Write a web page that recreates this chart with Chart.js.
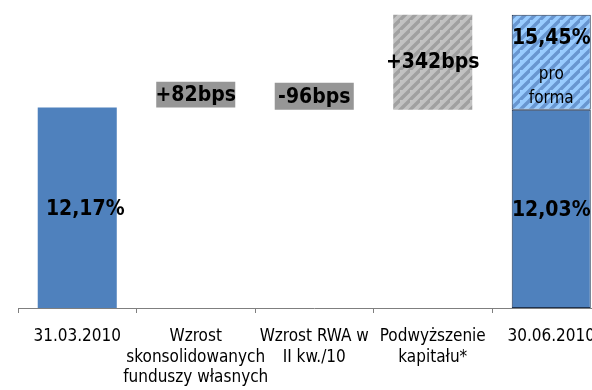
<!DOCTYPE html>
<html><head><meta charset="utf-8">
<script src="https://cdn.jsdelivr.net/npm/chart.js@4"></script>
<style>html,body{margin:0;padding:0;overflow:hidden;background:#fff;width:592px;height:390px}
#wrap{position:relative;width:620px;height:390px}</style></head>
<body><div id="wrap"><canvas id="c" width="620" height="390" style="width:620px;height:390px"></canvas></div>
<script>
const categories = ['31.03.2010', ['Wzrost','skonsolidowanych','funduszy własnych'], ['Wzrost RWA w','II kw./10'], ['Podwyższenie','kapitału*'], '30.06.2010'];
// values (percent, on the drawn scale)
const solidLow = [0, null, null, null, 0];
const solidHigh = [12.17, null, null, null, 12.03];
const changeLow = [null, 12.17, 12.03, null, null];
const changeHigh = [null, 13.73, 13.67, null, null];
const issueLow = [null, null, null, 12.03, null];
const issueHigh = [null, null, null, 17.8, null];
const proFormaLow = [null, null, null, null, 12.03];
const proFormaHigh = [null, null, null, null, 17.8];
const solidLabels = ['12,17%', null, null, null, '12,03%'];
const changeLabels = [null, '+82bps', '-96bps', '+342bps', null];
const proFormaLabels = ['15,45%', 'pro', 'forma'];

const FONT = "'DejaVu Sans Condensed', 'DejaVu Sans', sans-serif";
function ranges(lo, hi){ return lo.map((l,i)=> l==null ? null : [l, hi[i]]); }
function hatch(base, stripe){
  const n = 10;
  const c = document.createElement('canvas'); c.width = n; c.height = n;
  const g = c.getContext('2d');
  g.fillStyle = base; g.fillRect(0,0,n,n);
  g.strokeStyle = stripe; g.lineWidth = 3.4;
  g.beginPath();
  g.moveTo(-2,n+2); g.lineTo(n+2,-2);
  g.moveTo(-n-2,2); g.lineTo(2,-n-2);
  g.moveTo(-2,2*n+2); g.lineTo(2*n+2,-2);
  g.stroke();
  return g.createPattern(c, 'repeat');
}
const ctx0 = document.getElementById('c').getContext('2d');
const grayHatch = hatch('#C2C2C2', '#A0A0A0');
const blueHatch = hatch('#99CCFF', '#6896D0');
const EDGE = '#1F3350';

const labelPlugin = {
  id: 'labels',
  afterDatasetsDraw(chart){
    const ctx = chart.ctx;
    ctx.save();
    ctx.fillStyle = '#000';
    ctx.textAlign = 'center';
    ctx.textBaseline = 'middle';
    ctx.font = 'bold 21px ' + FONT;
    const m0 = chart.getDatasetMeta(0);
    solidLabels.forEach((t,i)=>{
      if(!t) return; const el = m0.data[i];
      ctx.fillText(t, el.x + (i===0 ? 8 : 0), (el.y + el.base)/2 + 1.5);
    });
    changeLabels.forEach((t,i)=>{
      if(!t) return;
      const ds = changeLow[i]!=null ? 1 : 2;
      const el = chart.getDatasetMeta(ds).data[i];
      ctx.fillText(t, el.x, (el.y + el.base)/2 + (ds===2 ? 0 : 1));
    });
    const el = chart.getDatasetMeta(3).data[4];
    const top = Math.min(el.y, el.base);
    ctx.textBaseline = 'alphabetic';
    ctx.font = 'bold 21px ' + FONT;
    ctx.fillText(proFormaLabels[0], el.x, top + 29.5);
    ctx.font = '17px ' + FONT;
    ctx.fillText(proFormaLabels[1], el.x, top + 64);
    ctx.fillText(proFormaLabels[2], el.x, top + 88);
    ctx.restore();
  }
};

new Chart(ctx0, {
  type: 'bar',
  data: {
    labels: categories,
    datasets: [
      { data: ranges(solidLow, solidHigh), backgroundColor: '#4F81BD', borderColor: EDGE, borderWidth: [0,0,0,0,1], borderSkipped: false },
      { data: ranges(changeLow, changeHigh), backgroundColor: '#969696', borderWidth: 0 },
      { data: ranges(issueLow, issueHigh), backgroundColor: grayHatch, borderWidth: 0 },
      { data: ranges(proFormaLow, proFormaHigh), backgroundColor: blueHatch, borderColor: EDGE, borderWidth: 1, borderSkipped: false }
    ]
  },
  options: {
    responsive: false,
    devicePixelRatio: 1,
    animation: false,
    layout: { padding: { left: 18, right: 9.5, top: 0, bottom: 0 } },
    datasets: { bar: { grouped: false, barPercentage: 0.667, categoryPercentage: 1 } },
    plugins: { legend: { display: false }, tooltip: { enabled: false } },
    scales: {
      x: {
        offset: true,
        grid: { offset: true, drawOnChartArea: false, drawTicks: true, tickLength: 5, color: '#7F7F7F', lineWidth: 1 },
        border: { display: true, color: '#7F7F7F', width: 1 },
        ticks: { autoSkip: false, maxRotation: 0, minRotation: 0, padding: 13, color: '#000', font: { family: FONT, size: 17, lineHeight: 1.22 } },
        afterFit(s){ s.height = 82; }
      },
      y: { display: false, min: 0, max: 18.7 }
    }
  },
  plugins: [labelPlugin]
});
</script></body></html>
